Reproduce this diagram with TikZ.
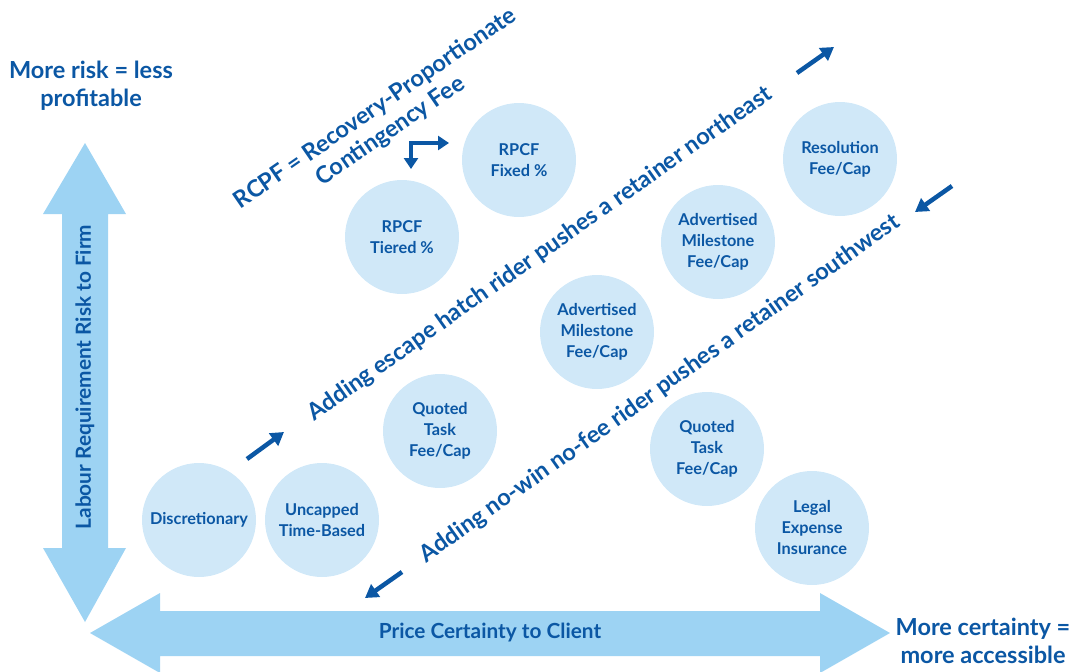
\documentclass[tikz,border=0pt]{standalone}
\usepackage{fontspec}
\setmainfont{Lato}
\usetikzlibrary{arrows.meta}
\definecolor{dblue}{HTML}{0B57A4}
\definecolor{cfill}{HTML}{D0E8F8}
\definecolor{afill}{HTML}{9DD3F3}
\tikzset{
  fee/.style={circle, fill=cfill, minimum size=114pt, inner sep=0pt, align=center,
    text=dblue, font=\bfseries\fontsize{16.3}{21}\selectfont},
  lbl/.style={text=dblue, align=center, font=\bfseries\fontsize{23.5}{28}\selectfont},
  diag/.style={text=dblue, align=center, font=\bfseries\fontsize{23.5}{27}\selectfont},
  axislbl/.style={text=dblue, font=\bfseries\fontsize{20.8}{22}\selectfont},
  push/.style={draw=dblue, line width=4.5pt, -{Triangle[length=13pt,width=15pt]}},
  bent/.style={draw=dblue, line width=4pt, {Triangle[length=11pt,width=14pt]}-{Triangle[length=11pt,width=14pt]}},
}
\begin{document}
\begin{tikzpicture}[x=1pt,y=-1pt]
\useasboundingbox (0,0) rectangle (1072,672);
% axes
\fill[afill] (85,143) -- (126,214) -- (108,214) -- (108,548) -- (126,548) -- (85,622)
  -- (43,548) -- (62,548) -- (62,214) -- (43,214) -- cycle;
\fill[afill] (90,633) -- (160,593) -- (160,611) -- (820,611) -- (820,593) -- (890,633)
  -- (820,673) -- (820,656) -- (160,656) -- (160,673) -- cycle;
\node[axislbl, rotate=90] (ylab) at (85,377) {Labour Requirement Risk to Firm};
\node[axislbl] (xlab) at (490,633) {Price Certainty to Client};
\node[lbl] (risk) at (91,86) {More risk = less\\profitable};
\node[lbl] (cert) at (983,641) {More certainty =\\more accessible};
% circles
\node[fee] (disc) at (199,520) {Discretionary};
\node[fee] (unc) at (322,520) {Uncapped\\Time-Based};
\node[fee] (qt1) at (440,431) {Quoted\\Task\\Fee/Cap};
\node[fee] (am1) at (597,332) {Advertised\\Milestone\\Fee/Cap};
\node[fee] (am2) at (718,242) {Advertised\\Milestone\\Fee/Cap};
\node[fee] (res) at (840,159) {Resolution\\Fee/Cap};
\node[fee] (fix) at (519,160) {RPCF\\Fixed \%};
\node[fee] (tier) at (402,237) {RPCF\\Tiered \%};
\node[fee] (qt2) at (707,449) {Quoted\\Task\\Fee/Cap};
\node[fee] (lei) at (812,528) {Legal\\Expense\\Insurance};
% diagonal texts
\node[diag, rotate=34.5] (rcpf) at (383,120) {RCPF = Recovery-Proportionate\\Contingency Fee};
\node[diag, rotate=35.2] (ne) at (540,254) {Adding escape hatch rider pushes a retainer northeast};
\node[diag, rotate=35.4] (sw) at (660,389) {Adding no-win no-fee rider pushes a retainer southwest};
% arrows
\coordinate (a1s) at (247,459); \coordinate (a1e) at (284,432);
\coordinate (a2s) at (797,73); \coordinate (a2e) at (834,47);
\coordinate (a3s) at (952,186); \coordinate (a3e) at (915,212);
\coordinate (a4s) at (402,572); \coordinate (a4e) at (365,598);
\draw[push] (a1s) -- (a1e);
\draw[push] (a2s) -- (a2e);
\draw[push] (a3s) -- (a3e);
\draw[push] (a4s) -- (a4e);
\coordinate (bd) at (411,169); \coordinate (br) at (449,143);
\draw[bent] (bd) |- (br);
\end{tikzpicture}
\end{document}
